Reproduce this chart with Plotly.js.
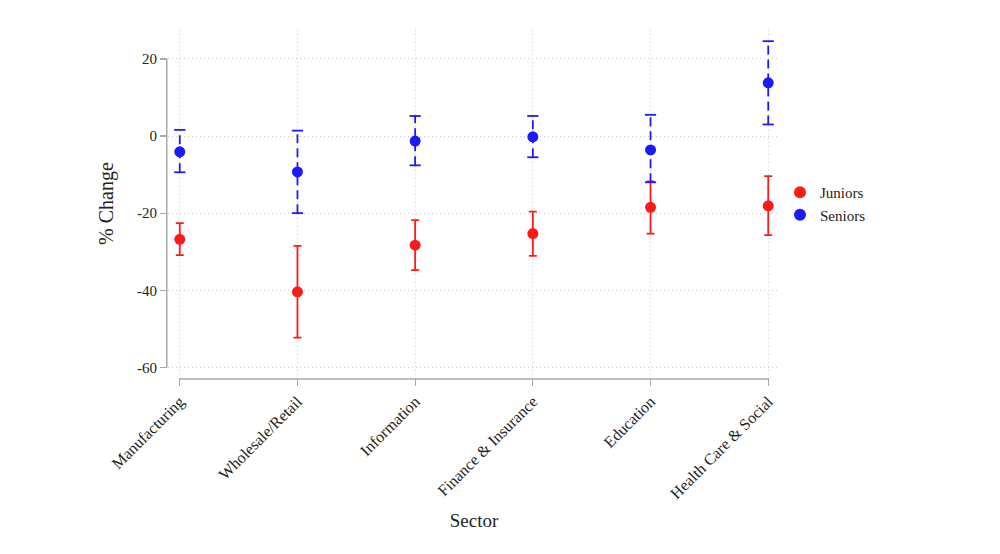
<!DOCTYPE html>
<html>
<head>
<meta charset="utf-8">
<script src="https://cdn.plot.ly/plotly-3.0.1.min.js"></script>
<style>html,body{margin:0;padding:0;background:#fff;}#chart{width:1000px;height:554px;}</style>
</head>
<body>
<div id="chart"></div>
<script>
const sectors = ["Manufacturing", "Wholesale/Retail", "Information", "Finance & Insurance", "Education", "Health Care & Social"];
const juniorsVal = [-26.8, -40.4, -28.3, -25.3, -18.5, -18.1];
const juniorsHi  = [-22.6, -28.5, -21.8, -19.6, -11.8, -10.4];
const juniorsLo  = [-30.9, -52.3, -34.8, -31.1, -25.3, -25.7];
const seniorsVal = [-4.1, -9.3, -1.3, -0.2, -3.6, 13.8];
const seniorsHi  = [1.6, 1.4, 5.2, 5.2, 5.5, 24.6];
const seniorsLo  = [-9.4, -20.0, -7.6, -5.5, -12.0, 3.0];
const yTicks = [-60, -40, -20, 0, 20];

const red = "#ff1a1a", blue = "#1a1aff";
const font = "Liberation Serif, DejaVu Serif, serif";

// seniors dashed whiskers built from data
const sx = [], sy = [];
sectors.forEach((s, i) => { sx.push(s, s, null); sy.push(seniorsLo[i], seniorsHi[i], null); });
const capX = sectors.concat(sectors);
const capY = seniorsLo.concat(seniorsHi);

const traces = [
  {
    x: sectors, y: juniorsVal, type: "scatter", mode: "markers", name: "Juniors",
    marker: {color: red, size: 11},
    error_y: {type: "data", symmetric: false,
      array: juniorsHi.map((h, i) => h - juniorsVal[i]),
      arrayminus: juniorsVal.map((v, i) => v - juniorsLo[i]),
      color: red, thickness: 1.8, width: 4}
  },
  {
    x: sx, y: sy, type: "scatter", mode: "lines", showlegend: false, hoverinfo: "skip",
    line: {color: blue, width: 1.8, dash: "9px,5px"}, connectgaps: false
  },
  {
    x: capX, y: capY, type: "scatter", mode: "markers", showlegend: false, hoverinfo: "skip",
    marker: {symbol: "line-ew", size: 8, line: {color: blue, width: 1.8}}
  },
  {
    x: sectors, y: seniorsVal, type: "scatter", mode: "markers", name: "Seniors",
    marker: {color: blue, size: 11}
  }
];

const layout = {
  width: 1000, height: 554,
  margin: {l: 168, r: 220, t: 30, b: 177},
  paper_bgcolor: "#fff", plot_bgcolor: "#fff",
  font: {family: font, color: "#222", size: 15},
  showlegend: true,
  legend: {x: 1.0, y: 0.50, xanchor: "left", yanchor: "middle",
    font: {family: font, size: 15, color: "#222"}, tracegroupgap: 0, itemsizing: "constant"},
  xaxis: {
    type: "category", categoryorder: "array", categoryarray: sectors,
    range: [-0.1, 5.1], showline: false, zeroline: false,
    showgrid: true, gridcolor: "#cccccc", griddash: "1px,3px", gridwidth: 1,
    ticks: "outside", ticklen: 8, tickcolor: "#aaa", tickwidth: 1.2,
    tickangle: -45, tickfont: {family: font, size: 16, color: "#222"},
    title: {text: "Sector", font: {family: font, size: 19, color: "#222"}, standoff: 12}
  },
  yaxis: {
    range: [-62.5, 27.5], tickvals: yTicks, ticktext: yTicks.map(String),
    showline: false, zeroline: false,
    showgrid: true, gridcolor: "#cccccc", griddash: "1px,3px", gridwidth: 1,
    ticks: "outside", ticklen: 7, tickcolor: "#aaa", tickwidth: 1.2,
    tickfont: {family: font, size: 15, color: "#222"},
    title: {text: "% Change", font: {family: font, size: 20, color: "#222"}, standoff: 18}
  },
  shapes: [
    {type: "line", xref: "x", yref: "paper", x0: 0, x1: 5, y0: -0.006, y1: -0.006,
      line: {color: "#aaa", width: 1.5}},
    {type: "line", xref: "paper", yref: "y", x0: -0.002, x1: -0.002, y0: -60, y1: 20,
      line: {color: "#aaa", width: 1.5}}
  ]
};

Plotly.newPlot("chart", traces, layout, {displayModeBar: false, staticPlot: true});
</script>
</body>
</html>
